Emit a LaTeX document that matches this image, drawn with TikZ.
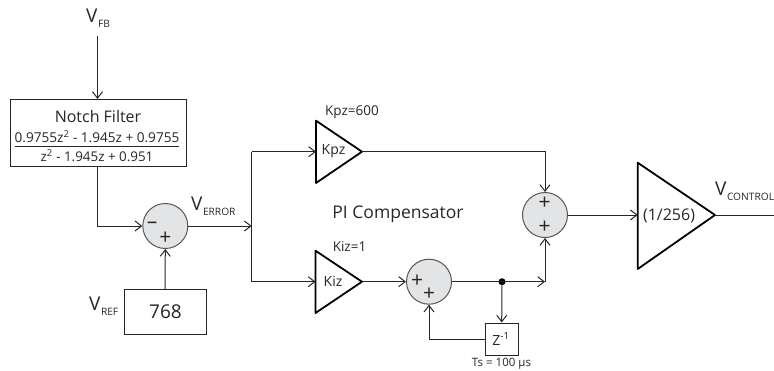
\documentclass[tikz,border=0pt]{standalone}
\usepackage{fontspec}
\setmainfont{Open Sans}
\usetikzlibrary{arrows.meta,shapes.geometric}
\newcommand{\fs}[1]{\fontsize{#1}{#1}\selectfont}
\newcommand{\VV}[1]{{\fs{19}V}\raisebox{-5pt}{\fs{10.2}\kern0.5pt #1}}
\definecolor{ink}{HTML}{262626}
\definecolor{sumfill}{HTML}{E3E4E5}
\definecolor{sumedge}{HTML}{555555}
\tikzset{
  x=1pt,y=-1pt,
  wire/.style={draw=ink,line width=1pt},
  arr/.style={wire,-{Straight Barb[length=6.5pt,width=10pt,line width=1pt]}},
  blockbox/.style={draw=ink,line width=1pt,inner sep=0pt,fill=white},
  sum/.style={circle,draw=sumedge,fill=sumfill,line width=1pt,minimum size=45pt,inner sep=0pt},
  gain/.style={draw=black,line width=1.8pt,line join=round},
  lab/.style={inner sep=0pt,text=ink,font=\fs{13.5}},
  sign/.style={inner sep=0pt,text=ink,font=\fs{21}},
  dot/.style={circle,fill=black,minimum size=7pt,inner sep=0pt},
}
\begin{document}
\begin{tikzpicture}
\useasboundingbox (0,0) rectangle (774,370);
% blocks
\node[blockbox,minimum width=176pt,minimum height=67.5pt] (notch) at (98,133) {};
\node[lab,font=\fs{16}] (notchtitle) at (98,116.5) {Notch Filter};
\node[lab,font=\fs{13.6}] (notchnum) at (97,137) {0.9755z\textsuperscript{2} - 1.945z + 0.9755};
\node[lab,font=\fs{13.4}] (notchden) at (97,156) {z\textsuperscript{2} - 1.945z + 0.951};
\coordinate (fracL) at (15,146);
\coordinate (fracR) at (179,146);
\draw[wire] (fracL) -- (fracR);
\node[blockbox,minimum width=82pt,minimum height=44.5pt] (ref) at (165,312.2) {};
\node[lab,font=\fs{19}] (reftext) at (165.5,311.5) {768};
\node[blockbox,minimum width=33pt,minimum height=32pt] (zbox) at (501.7,339) {};
\node[lab,font=\fs{14}] (ztext) at (501,339) {Z\textsuperscript{-1}};
\node[sum] (s1) at (165.3,226) {};
\node[sum] (s2) at (429,281.7) {};
\node[sum] (s3) at (545,215) {};
\node[sign] (s1m) at (152,225) {\fs{21}–};
\node[sign] (s1p) at (165.3,238.5) {+};
\node[sign] (s2a) at (417,281) {+};
\node[sign] (s2b) at (429,294.5) {+};
\node[sign] (s3a) at (544.5,203) {+};
\node[sign] (s3b) at (544.5,227.5) {+};
% gains
\coordinate (kpzT) at (316,120.7); \coordinate (kpzB) at (316,183); \coordinate (kpzIn) at (316,151.7); \coordinate (kpzOut) at (362,151.7);
\coordinate (kizT) at (315.5,250.7); \coordinate (kizB) at (315.5,313); \coordinate (kizIn) at (315.5,281.7); \coordinate (kizOut) at (362,281.7);
\coordinate (bigT) at (637.7,162.7); \coordinate (bigB) at (637.7,269); \coordinate (bigIn) at (637.7,215); \coordinate (bigOut) at (715,215);
\draw[gain] (kpzT) -- (kpzOut) -- (kpzB) -- cycle;
\draw[gain] (kizT) -- (kizOut) -- (kizB) -- cycle;
\draw[gain] (bigT) -- (bigOut) -- (bigB) -- cycle;
\node[lab,font=\fs{14}] (kpzlab) at (333.5,151.5) {Kpz};
\node[lab,font=\fs{14}] (kizlab) at (333,281.5) {Kiz};
\node[lab,font=\fs{16}] (biglab) at (669,215.5) {(1/256)};
% labels
\node[lab,anchor=west] (vfb) at (86,18) {\VV{FB}};
\node[lab,anchor=west] (vref) at (89,306) {\VV{REF}};
\node[lab,anchor=west] (verr) at (191,206) {\VV{ERROR}};
\node[lab,anchor=west] (vctl) at (715,191) {\VV{CONTROL}};
\node[lab] (kpzgain) at (352,112) {Kpz=600};
\node[lab] (kizgain) at (349.5,247) {Kiz=1};
\node[lab,font=\fs{17.5}] (pi) at (398,214) {PI Compensator};
\node[lab,font=\fs{11.5}] (ts) at (501.5,364) {Ts = 100 µs};
% connectors
\coordinate (fbtop) at (97.5,36);
\coordinate (split) at (251.7,226);
\coordinate (ctlend) at (774,215);
\coordinate (join) at (545,281.7);
\node[dot] (tap) at (502,281.7) {};
\draw[arr] (fbtop) -- (97.5,99);
\draw[arr] (notch.south -| 97.5,0) |- (s1.west);
\draw[arr] (ref.north) -- (s1.south);
\draw[arr] (s1.east) -- (split);
\draw[wire] (split) -- (251.7,151.7);
\draw[wire] (split) -- (251.7,282.2);
\draw[arr] (251.7,151.7) -- (kpzIn);
\draw[arr] (251.7,281.7) -- (kizIn);
\draw[arr] (kpzOut) -| (s3.north);
\draw[arr] (kizOut) -- (s2.west);
\draw[arr] (s2.east) -- (join);
\draw[arr] (join) -- (s3.south);
\draw[arr] (tap) -- (zbox.north);
\draw[arr] (zbox.west) -| (s2.south);
\draw[arr] (s3.east) -- (bigIn);
\draw[wire] (bigOut) -- (ctlend);
\end{tikzpicture}
\end{document}
